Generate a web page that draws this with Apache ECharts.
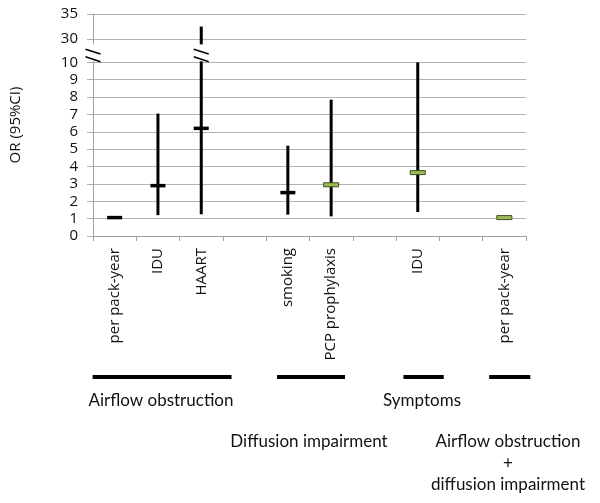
<!DOCTYPE html>
<html>
<head>
<meta charset="utf-8">
<script src="https://cdn.jsdelivr.net/npm/echarts@6/dist/echarts.min.js"></script>
<style>
  html, body { margin: 0; padding: 0; background: #fff; }
  #chart { width: 600px; height: 503px; }
</style>
</head>
<body>
<div id="chart"></div>
<script>
// ---------------- data ----------------
const categories   = ['per pack-year', 'IDU', 'HAART', '', 'smoking', 'PCP prophylaxis', '', 'IDU', '', 'per pack-year'];
const orValues     = [1.06, 2.9, 6.2, null, 2.5, 2.95, null, 3.65, null, 1.06];
const ciLower      = [1.03, 1.2, 1.25, null, 1.23, 1.13, null, 1.38, null, 1.03];
const ciUpper      = [1.09, 7.05, 32.5, null, 5.2, 7.85, null, 10.0, null, 1.09];
const markerKinds  = ['black', 'black', 'black', null, 'black', 'green', null, 'green', null, 'green'];
const yTickLabels  = [0, 1, 2, 3, 4, 5, 6, 7, 8, 9, 10, 30, 35];
const groupNames   = ['Airflow obstruction', 'Diffusion impairment', 'Symptoms', 'Airflow obstruction\n+\ndiffusion impairment'];
const groupSpans   = [[-0.51, 2.70], [3.75, 5.32], [6.67, 7.60], [8.65, 9.60]]; // in category units

// ---------------- broken y scale ----------------
const BREAK_FROM = 10, BREAK_TO = 30;
function toAxis(v) {
  if (v <= BREAK_FROM) return v;
  if (v <= BREAK_TO) return BREAK_FROM + (v - BREAK_FROM) * (1.34 / (BREAK_TO - BREAK_FROM));
  return BREAK_FROM + 1.34 + (v - BREAK_TO) * (1.445 / 5);
}
function fromAxisLabel(v) {
  for (const t of yTickLabels) if (Math.abs(toAxis(t) - v) < 1e-6) return String(t);
  return '';
}
const yTickPos = yTickLabels.map(toAxis);

const errData = [];
categories.forEach((c, i) => {
  if (orValues[i] == null) return;
  errData.push([i, toAxis(ciLower[i]), toAxis(ciUpper[i]), toAxis(orValues[i])]);
});

function breakMark(cx, y10) {
  return [
    { type: 'rect', shape: { x: cx - 6, y: y10 - 18, width: 12, height: 17 }, style: { fill: '#fff' } },
    { type: 'line', shape: { x1: cx - 7.5, y1: y10 - 13.1, x2: cx + 7.5, y2: y10 - 8.3 }, style: { stroke: '#000', lineWidth: 1.6 } },
    { type: 'line', shape: { x1: cx - 7.5, y1: y10 - 5.5, x2: cx + 7.5, y2: y10 - 0.7 }, style: { stroke: '#000', lineWidth: 1.6 } }
  ];
}

function renderErr(params, api) {
  const i = api.value(0);
  const lo = api.coord([i, api.value(1)]);
  const hi = api.coord([i, api.value(2)]);
  const pt = api.coord([i, api.value(3)]);
  const children = [];
  children.push({ type: 'line', shape: { x1: lo[0], y1: lo[1], x2: hi[0], y2: hi[1] },
                  style: { stroke: '#000', lineWidth: 3 } });
  if (api.value(2) > toAxis(BREAK_FROM) + 0.5) {
    const y10 = api.coord([i, toAxis(BREAK_FROM)])[1];
    breakMark(lo[0], y10).forEach(c => children.push(c));
  }
  const kind = markerKinds[i];
  if (kind === 'green') {
    children.push({ type: 'rect', shape: { x: pt[0] - 7.5, y: pt[1] - 2, width: 15, height: 4 },
                    style: { fill: '#9bbb59', stroke: '#3f4f1c', lineWidth: 1 } });
  } else {
    children.push({ type: 'rect', shape: { x: pt[0] - 7.5, y: pt[1] - 1.75, width: 15, height: 3.5 },
                    style: { fill: '#000' } });
  }
  return { type: 'group', children };
}

function renderAxisBreak(params, api) {
  const y10 = api.coord([0, toAxis(BREAK_FROM)])[1];
  return { type: 'group', children: breakMark(params.coordSys.x, y10) };
}

const chart = echarts.init(document.getElementById('chart'), null, { renderer: 'canvas' });

const option = {
  animation: false,
  backgroundColor: '#fff',
  grid: { left: 92, right: 74, top: 14, bottom: 267, containLabel: false },
  xAxis: {
    type: 'category',
    data: categories,
    boundaryGap: true,
    axisLine: { lineStyle: { color: '#a0a0a0', width: 1 } },
    axisTick: { show: true, length: 5, lineStyle: { color: '#a0a0a0' } },
    axisLabel: { interval: 0, rotate: 90, margin: 12, fontFamily: 'Open Sans', fontSize: 15, color: '#111' },
    splitLine: { show: false }
  },
  yAxis: {
    type: 'value',
    min: 0,
    max: toAxis(35),
    name: 'OR (95%CI)',
    nameLocation: 'middle',
    nameGap: 70,
    nameRotate: 90,
    nameTextStyle: { fontFamily: 'Open Sans', fontSize: 15, color: '#111' },
    axisLine: { show: true, lineStyle: { color: '#a0a0a0', width: 1 } },
    axisTick: { show: true, length: 6, customValues: yTickPos, lineStyle: { color: '#b0b0b0' } },
    axisLabel: { customValues: yTickPos, formatter: fromAxisLabel, margin: 15,
                 fontFamily: 'Open Sans', fontSize: 15, color: '#111' },
    splitLine: { show: true, lineStyle: { color: '#b3b3b3', width: 1 } }
  },
  series: [
    { type: 'custom', name: 'OR', data: errData, renderItem: renderErr,
      encode: { x: 0, y: [1, 2, 3] }, z: 5, clip: false },
    { type: 'custom', name: 'axisBreak', data: [[0, toAxis(BREAK_FROM)]], renderItem: renderAxisBreak,
      encode: { x: 0, y: 1 }, z: 6, clip: false, silent: true }
  ]
};
chart.setOption(option);

// ---- group annotations (underlines + labels) placed via the category scale ----
const c0 = chart.convertToPixel({ xAxisIndex: 0 }, 0);
const c1 = chart.convertToPixel({ xAxisIndex: 0 }, 1);
const band = c1 - c0;
const px = u => c0 + u * band;
const graphics = [];
groupSpans.forEach(s => {
  graphics.push({ type: 'rect', shape: { x: px(s[0]), y: 375, width: px(s[1]) - px(s[0]), height: 4 },
                  style: { fill: '#000' }, silent: true });
});
const groupTextPos = [[161, 401], [309, 442], [422, 401], [508, 442]];
groupNames.forEach((name, k) => {
  graphics.push({ type: 'text', x: groupTextPos[k][0], y: groupTextPos[k][1],
    style: { text: name, fontFamily: 'Lato', fontSize: 17, fill: '#111',
             align: 'center', verticalAlign: 'middle', lineHeight: 21.5 },
    silent: true });
});
// the multi-line label is anchored on its first line
graphics[graphics.length - 1].y = 442 + 21.5;
chart.setOption({ graphic: graphics });
</script>
</body>
</html>
